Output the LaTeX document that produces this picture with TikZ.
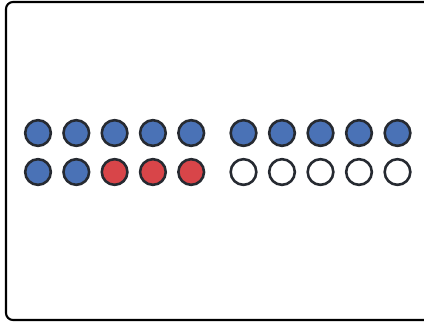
\documentclass[tikz,border=0pt]{standalone}
\usepackage{xcolor}
\definecolor{ccink}{HTML}{262A31}
\definecolor{ccblue}{HTML}{4A72B6}
\definecolor{ccred}{HTML}{D84549}
\usepackage{tikz}
\tikzset{
  ccdot/.style  ={circle, draw=ccink, line width=2.2pt, minimum size=0.77cm,
                  inner sep=0pt, fill=white},
  ccblue/.style ={ccdot, fill=ccblue},
  ccred/.style  ={ccdot, fill=ccred},
  ccempty/.style={ccdot, fill=white},
  ccframe/.style={draw=black, line width=1.8pt, rounded corners=6pt},
}
\begin{document}
\begin{tikzpicture}[x=0.03cm, y=-0.03cm]
  \useasboundingbox (0,0) rectangle (424,322);
  \draw[ccframe] (6,2) rectangle (440,320);
  \foreach \i in {0,...,4}{
    \node[ccblue] (topl\i) at ({38+38.3*\i},133) {};
    \node[ccblue] (topr\i) at ({243.5+38.5*\i},133) {};
    \node[ccempty] (botr\i) at ({243.5+38.5*\i},172) {};
  }
  \foreach \i in {0,1}{\node[ccblue] (botl\i) at ({38+38.3*\i},172) {};}
  \foreach \i in {2,3,4}{\node[ccred] (botl\i) at ({38+38.3*\i},172) {};}
\end{tikzpicture}
\end{document}
